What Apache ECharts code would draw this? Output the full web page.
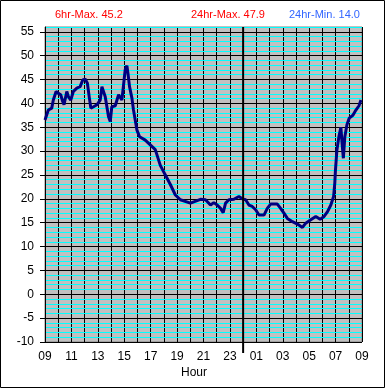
<!DOCTYPE html>
<html><head><meta charset="utf-8">
<script src="https://cdn.jsdelivr.net/npm/echarts@6/dist/echarts.min.js"></script>
<style>html,body{margin:0;padding:0;background:#fff}#c{width:385px;height:388px}</style>
</head><body><div id="c"></div>
<script>
// hours since 09:00
const hours = [0,0.25,0.51,0.63,0.84,1.01,1.19,1.34,1.44,1.65,1.77,1.95,2.15,2.41,2.66,2.86,3.04,3.21,3.36,3.47,3.67,3.93,4.18,4.31,4.56,4.81,4.94,5.06,5.32,5.57,5.82,5.95,6.07,6.2,6.28,6.4,6.58,6.7,6.83,6.96,7.16,7.59,7.97,8.35,8.73,9.11,9.49,9.87,10.25,11.01,11.77,12.15,12.53,12.78,13.04,13.29,13.49,13.67,13.92,14.3,14.68,14.94,15.19,15.44,15.69,15.95,16.2,16.58,16.83,17.08,17.59,17.84,18.09,18.35,18.73,19.11,19.49,19.74,20.12,20.5,20.83,21.13,21.39,21.64,21.85,21.94,21.99,22.1,22.25,22.4,22.51,22.59,22.7,22.86,23.03,23.31,23.54,23.77,23.92];
const temps = [36.5,38.6,39,40.7,42.5,42.1,41.8,40.4,39.7,42.5,41.4,40.7,42.5,43.2,43.5,44.9,45.1,44.2,41.1,39,39.3,39.7,40.7,43.5,41.4,37.2,36.2,39.3,39.5,41.8,40.7,43.9,47,47.9,46.3,43.5,41.1,38.6,36.5,34.4,33,32.3,31.3,30.3,27,25,23,20.8,19.8,19.1,19.9,19.8,18.7,19.2,18.7,18,17.1,19.1,19.8,19.9,20.5,20,19.8,18.7,18.4,17.7,16.6,16.6,18,18.9,18.9,18,17,15.9,15.2,14.7,14.0,14.9,15.6,16.3,15.7,16.3,17.3,18.7,20.5,23.3,26,30.2,33,35,31,28.5,33,35.5,36.9,37.5,38.6,39.5,40.7];
const yTickValues = [-10,-5,0,5,10,15,20,25,30,35,40,45,50,55];
const startHour = 9;
const midnightOffset = 15;
const statTexts = ['6hr-Max. 45.2','24hr-Max. 47.9','24hr-Min. 14.0'];
const xAxisTitle = 'Hour';

const FONT = "'Liberation Sans', Arial, sans-serif";
const chart = echarts.init(document.getElementById('c'), null, {renderer:'canvas'});
chart.setOption({
  animation: false,
  grid: {left:45, top:27, right:23, bottom:46, show:true, backgroundColor:'#c0c0c0', borderColor:'#808080', borderWidth:1},
  xAxis: {
    type:'value', min:0, max:24, interval:2,
    axisLine:{show:true, lineStyle:{color:'#000', width:1}},
    axisTick:{show:true, length:5, lineStyle:{color:'#000'}},
    axisLabel:{margin:9, color:'#000', fontSize:12, fontFamily:FONT,
      formatter: v => String((startHour + v) % 24).padStart(2,'0')},
    splitLine:{show:true, lineStyle:{color:'#000', width:1}},
    minorTick:{show:false, splitNumber:2},
    minorSplitLine:{show:true, lineStyle:{color:'#000', width:1}}
  },
  yAxis: [{
    type:'value', min:-10, max:56, interval:5, z:3,
    axisLine:{show:true, lineStyle:{color:'#000', width:1}},
    axisTick:{show:true, length:5, lineStyle:{color:'#000'}, customValues:yTickValues},
    axisLabel:{margin:11, color:'#000', fontSize:12, fontFamily:FONT, customValues:yTickValues},
    splitLine:{show:true, lineStyle:{color:'#000', width:1}}
  },{
    type:'value', min:-10, max:56, interval:1, position:'left', z:1,
    axisLine:{show:false}, axisTick:{show:false}, axisLabel:{show:false},
    splitLine:{show:true, lineStyle:{color:['rgba(0,0,0,0)','#00ffff','#00ffff','#00ffff','#00ffff'], width:1}}
  }],
  series: [{
    type:'line', data: hours.map((h,i)=>[h,temps[i]]),
    showSymbol:false, symbol:'none',
    lineStyle:{color:'#000080', width:3},
    z:5
  }]
});

const xm = chart.convertToPixel({xAxisIndex:0}, midnightOffset);
const yt = chart.convertToPixel({yAxisIndex:0}, 56);
const yb = chart.convertToPixel({yAxisIndex:0}, -10);
chart.setOption({
  graphic: [
    {type:'line', shape:{x1:xm, y1:yt, x2:xm, y2:yb+11}, style:{stroke:'#000', lineWidth:2}, z:10},
    {type:'text', left:55, top:9, style:{text:statTexts[0], fill:'#ff0000', font:'11px '+FONT}},
    {type:'text', left:191, top:9, style:{text:statTexts[1], fill:'#ff0000', font:'11px '+FONT}},
    {type:'text', left:289, top:9, style:{text:statTexts[2], fill:'#3366ff', font:'11px '+FONT}},
    {type:'text', left:181, top:367, style:{text:xAxisTitle, fill:'#000', font:'12px '+FONT}},
    {type:'rect', shape:{x:0.5, y:0.5, width:384, height:387}, style:{fill:'none', stroke:'#000', lineWidth:1}, z:20}
  ]
});
</script></body></html>
